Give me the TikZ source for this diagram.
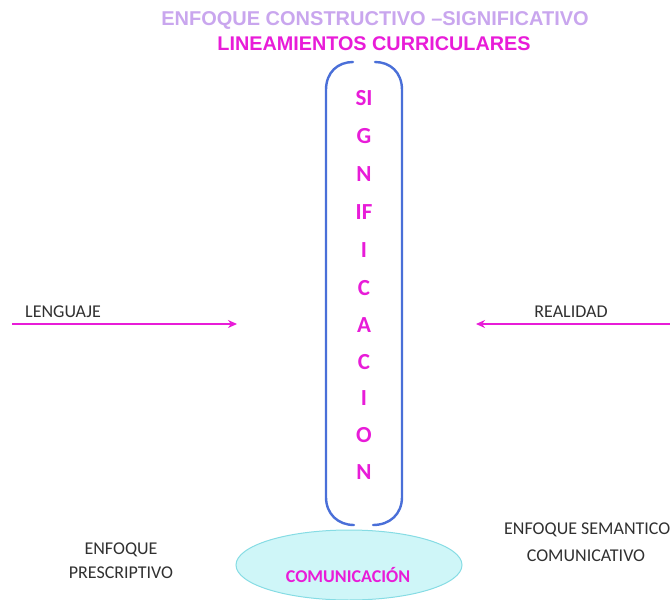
\documentclass[tikz,border=0pt]{standalone}
\usepackage{fontspec}
\setmainfont{Carlito}
\newfontfamily\arialf{Liberation Sans}
\usetikzlibrary{shapes.geometric,arrows.meta}
\definecolor{mag}{HTML}{E81CD8}
\definecolor{lilac}{HTML}{C9A6EE}
\definecolor{bblue}{HTML}{4A6FD8}
\definecolor{cyfill}{HTML}{CFF6F8}
\definecolor{cyline}{HTML}{86DCE4}
\definecolor{txt}{HTML}{303030}
\tikzset{
  letter/.style={font=\fontsize{23}{23}\selectfont\bfseries, text=mag, anchor=center, inner sep=0pt},
  lbl/.style={font=\fontsize{18}{20}\selectfont, text=txt, align=center, inner sep=0pt},
  marrow/.style={draw=mag, line width=2.4pt, -{Stealth[length=9pt,width=8pt]}},
  brack/.style={draw=bblue, line width=2.4pt, line cap=round}
}
\begin{document}
\begin{tikzpicture}[x=1pt,y=-1pt]
\useasboundingbox (0,0) rectangle (670,600);
% titles
\node[font=\arialf\fontsize{20}{20}\selectfont\bfseries, text=lilac, inner sep=0pt] (t1) at (375,20) {ENFOQUE CONSTRUCTIVO –SIGNIFICATIVO};
\node[font=\arialf\fontsize{19.8}{20}\selectfont\bfseries, text=mag, inner sep=0pt] (t2) at (374,44) {LINEAMIENTOS CURRICULARES};
% bracket
\draw[brack] (353,62) .. controls (338,62) and (326,72) .. (326,90) -- (326,497) .. controls (326,514) and (338,525) .. (354,525);
\draw[brack] (375,62) .. controls (390,62) and (402,72) .. (402,90) -- (402,497) .. controls (402,514) and (390,525) .. (373,525);
% letters
\node[letter] (l1) at (364,98) {SI};
\node[letter] (l2) at (364,136) {G};
\node[letter] (l3) at (364,174) {N};
\node[letter] (l4) at (364,212) {IF};
\node[letter] (l5) at (364,250) {I};
\node[letter] (l6) at (364,288) {C};
\node[letter] (l7) at (364,325) {A};
\node[letter] (l8) at (364,362) {C};
\node[letter] (l9) at (364,398) {I};
\node[letter] (l10) at (364,435) {O};
\node[letter] (l11) at (364,472) {N};
% arrows
\coordinate (ls) at (12,324);
\coordinate (le) at (237,324);
\coordinate (rs) at (672,324);
\coordinate (re) at (476,324);
\draw[marrow] (ls) -- (le);
\draw[marrow] (rs) -- (re);
\node[lbl, anchor=west] (leng) at (25,312) {LENGUAJE};
\node[lbl] (real) at (571,312) {REALIDAD};
% ellipse
\node[ellipse, draw=cyline, fill=cyfill, line width=1pt, minimum width=226pt, minimum height=70pt, inner sep=0pt] (com) at (349,565) {};
\node[font=\fontsize{18}{18}\selectfont\bfseries, text=mag, inner sep=0pt] (comt) at (348,575) {COMUNICACIÓN};
% side labels
\node[lbl] (pres) at (121,561) {ENFOQUE\\[4pt]PRESCRIPTIVO};
\node[lbl, anchor=north west] (sem) at (504,523) {ENFOQUE SEMANTICO};
\node[lbl] (sem2) at (586,556) {COMUNICATIVO};
\end{tikzpicture}
\end{document}
